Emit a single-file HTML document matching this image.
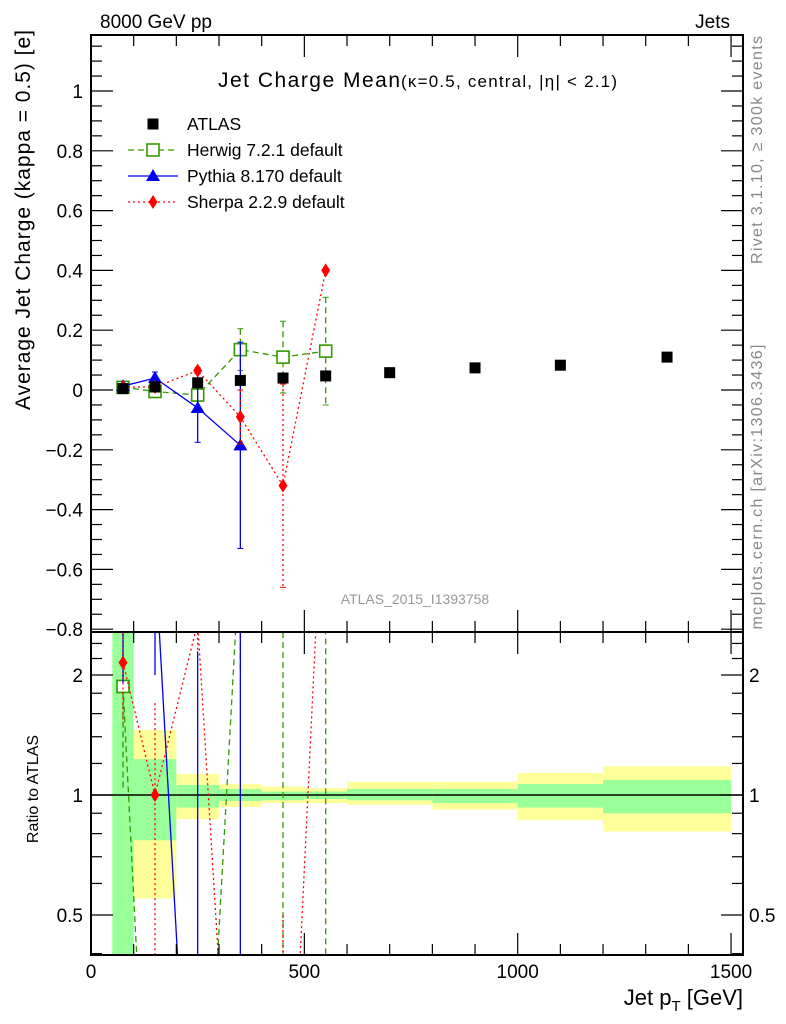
<!DOCTYPE html>
<html><head><meta charset="utf-8"><style>
html,body{margin:0;background:#fff;overflow:hidden;width:786px;height:1024px}
svg{display:block;font-family:"Liberation Sans",sans-serif}
</style></head><body>
<svg id="c" width="786" height="1024" viewBox="0 0 786 1024">
<text x="100" y="28" font-size="19">8000 GeV pp</text>
<text x="730" y="28" font-size="19" text-anchor="end">Jets</text>
<text x="218" y="87" font-size="21" textLength="182">Jet Charge Mean</text>
<text x="401" y="87" font-size="17" textLength="216">(κ=0.5, central, |η| &lt; 2.1)</text>
<text transform="translate(30,220) rotate(-90)" font-size="21" text-anchor="middle" textLength="380">Average Jet Charge (kappa = 0.5) [e]</text>
<text transform="translate(38,789) rotate(-90)" font-size="16" text-anchor="middle">Ratio to ATLAS</text>
<text transform="translate(762,150) rotate(-90)" font-size="16" fill="#888" text-anchor="middle" textLength="228">Rivet 3.1.10, ≥ 300k events</text>
<text transform="translate(762,487) rotate(-90)" font-size="16" fill="#888" text-anchor="middle" textLength="285">mcplots.cern.ch [arXiv:1306.3436]</text>
<text x="415" y="604" font-size="14" fill="#999" text-anchor="middle">ATLAS_2015_I1393758</text>
<text x="743" y="1005" font-size="22" text-anchor="end">Jet p<tspan font-size="15" dy="6">T</tspan><tspan dy="-6"> [GeV]</tspan></text>
<g id="g"></g>
</svg>
<script>
const centers=[75,150,250,350,450,550,700,900,1100,1350];
const edges=[50,100,200,300,400,500,600,800,1000,1200,1500];
const atlas=[0.0047,0.010,0.024,0.032,0.040,0.047,0.058,0.074,0.083,0.110];
const herwig=[0.0088,-0.005,-0.017,0.135,0.110,0.130];
const herwigErr=[0.004,0.006,0.008,0.07,0.12,0.18];
const pythia=[0.013,0.040,-0.060,-0.185];
const pythiaErr=[0.004,0.02,0.115,0.345];
const sherpa=[0.0101,0.010,0.065,-0.090,-0.320,0.400];
const sherpaErr=[0.003,0.007,0.01,0.09,0.34,0.0];
const greenHi=[3,1.23,1.06,1.035,1.02,1.02,1.035,1.035,1.065,1.09];
const greenLo=[0.3,0.77,0.93,0.966,0.97,0.977,0.97,0.955,0.93,0.9];
const yellowHi=[3,1.455,1.13,1.065,1.05,1.04,1.08,1.08,1.135,1.18];
const yellowLo=[0.3,0.55,0.87,0.933,0.955,0.955,0.945,0.92,0.865,0.81];
const yTicks=[-0.8,-0.6,-0.4,-0.2,0,0.2,0.4,0.6,0.8,1];
const xTicks=[0,500,1000,1500];
const rTicks=[0.5,1,2];

const NS="http://www.w3.org/2000/svg";
const G=document.getElementById('g');
const L=91,R=743,T=35,MB=632,RB=955;
const X=v=>91+v*0.4267;
const Y=v=>390-v*299;
const RY=v=>795-Math.log2(v)*120;
function el(t,a,p){const e=document.createElementNS(NS,t);for(const k in a)e.setAttribute(k,a[k]);(p||G).appendChild(e);return e;}

const defs=el('defs',{});
const clipR=el('clipPath',{id:'cr'},defs);el('rect',{x:L,y:MB,width:R-L,height:RB-MB},clipR);
const clipM=el('clipPath',{id:'cm'},defs);el('rect',{x:L,y:T,width:R-L,height:MB-T},clipM);
const rg=el('g',{'clip-path':'url(#cr)'});
for(let i=0;i<centers.length;i++){
  const b=el('rect',{x:X(edges[i]),y:RY(yellowHi[i]),width:X(edges[i+1])-X(edges[i]),height:RY(yellowLo[i])-RY(yellowHi[i]),fill:'#ffff99'},rg);
  
  
  const g2=el('rect',{x:X(edges[i]),y:RY(greenHi[i]),width:X(edges[i+1])-X(edges[i]),height:RY(greenLo[i])-RY(greenHi[i]),fill:'#99ff99'},rg);
  
  
}
el('line',{x1:L,x2:R,y1:RY(1),y2:RY(1),stroke:'#000','stroke-width':1.5},rg);

const series=[
 {v:herwig,e:herwigErr,c:'#339900',d:'6,4',m:'sq',n:'herwig'},
 {v:pythia,e:pythiaErr,c:'#0000ee',d:'',m:'tri',n:'pythia'},
 {v:sherpa,e:sherpaErr,c:'#ff0000',d:'2,3',m:'dia',n:'sherpa'}];
function marker(m,x,y,c,p){
  if(m==='sq')return el('rect',{x:x-6,y:y-6,width:12,height:12,fill:'#fff',stroke:c,'stroke-width':1.6},p);
  if(m==='tri')return el('polygon',{points:`${x},${y-7} ${x-7},${y+5} ${x+7},${y+5}`,fill:c},p);
  if(m==='dia')return el('polygon',{points:`${x},${y-7} ${x-4.5},${y} ${x},${y+7} ${x+4.5},${y}`,fill:c},p);
  return el('rect',{x:x-5.5,y:y-5.5,width:11,height:11,fill:'#000'},p);
}
const mg=el('g',{'clip-path':'url(#cm)'});
const rlg=el('g',{'clip-path':'url(#cr)'});
for(const s of series){
  let pts=s.v.map((v,i)=>X(centers[i])+','+Y(v)).join(' ');
  const pl=el('polyline',{points:pts,fill:'none',stroke:s.c,'stroke-width':1.3,'stroke-dasharray':s.d},mg);
  
  
  let rp=s.v.map((v,i)=>X(centers[i])+','+RY(Math.max(v/atlas[i],0.05))).join(' ');
  const rl=el('polyline',{points:rp,fill:'none',stroke:s.c,'stroke-width':1.3,'stroke-dasharray':s.d},rlg);
  
  
  s.v.forEach((v,i)=>{
    const x=X(centers[i]);
    if(s.e[i]>0){
      const eb=el('line',{x1:x,x2:x,y1:Y(v+s.e[i]),y2:Y(v-s.e[i]),stroke:s.c,'stroke-width':1.3,'stroke-dasharray':s.d},mg);
      
      
      el('line',{x1:x-3,x2:x+3,y1:Y(v+s.e[i]),y2:Y(v+s.e[i]),stroke:s.c},mg);
      el('line',{x1:x-3,x2:x+3,y1:Y(v-s.e[i]),y2:Y(v-s.e[i]),stroke:s.c},mg);
      const lo=Math.max((v-s.e[i])/atlas[i],0.05),hi=Math.max((v+s.e[i])/atlas[i],0.05);
      el('line',{x1:x,x2:x,y1:RY(hi),y2:RY(lo),stroke:s.c,'stroke-width':1.3,'stroke-dasharray':s.d},rlg);
    }
    const mk=marker(s.m,x,Y(v),s.c,mg);
    
    
    const r=v/atlas[i];
    if(r>0){const rm=marker(s.m,x,RY(r),s.c,rlg);
      
      }
  });
}
atlas.forEach((v,i)=>{
  const mk=marker('b',X(centers[i]),Y(v),'#000',mg);
  
  
});

const leg=[['ATLAS','b','#000',''],['Herwig 7.2.1 default','sq','#339900','6,4'],['Pythia 8.170 default','tri','#0000ee',''],['Sherpa 2.2.9 default','dia','#ff0000','2,3']];
leg.forEach((l,i)=>{
  const y=124+i*26;
  const lg=el('g',{});
  
  
  if(i>0)el('line',{x1:128,x2:178,y1:y,y2:y,stroke:l[2],'stroke-width':1.3,'stroke-dasharray':l[3]},lg);
  marker(l[1],153,y,l[2],lg);
  const t=el('text',{x:187,y:y+6,'font-size':17.5},lg);t.textContent=l[0];
});

el('rect',{x:L,y:T,width:R-L,height:MB-T,fill:'none',stroke:'#000','stroke-width':2});
el('rect',{x:L,y:MB,width:R-L,height:RB-MB,fill:'none',stroke:'#000','stroke-width':2});

for(let k=-16;k<=23;k++){
  const v=k*0.05;const y=Y(v);if(y<T||y>MB)continue;
  const major=k%4===0;const len=major?22:11;
  el('line',{x1:L,x2:L+len,y1:y,y2:y,stroke:'#000','stroke-width':1.2});
  el('line',{x1:R,x2:R-len,y1:y,y2:y,stroke:'#000','stroke-width':1.2});
}
yTicks.forEach(v=>{const t=el('text',{x:L-8,y:Y(v)+7,'font-size':19,'text-anchor':'end'});
  
  t.textContent=(v<0?'\u2212':'')+String(Math.abs(v));});
for(let v=0;v<=1500;v+=100){
  const x=X(v);const len=v%500===0?22:11;
  for(const[a,b]of[[T,MB],[MB,RB]]){
    el('line',{x1:x,x2:x,y1:b,y2:b-len,stroke:'#000','stroke-width':1.2});
    el('line',{x1:x,x2:x,y1:a,y2:a+len,stroke:'#000','stroke-width':1.2});
  }
}
xTicks.forEach(v=>{const t=el('text',{x:X(v),y:978,'font-size':19,'text-anchor':'middle'});
  t.textContent=v;});
[0.4,0.6,0.7,0.8,0.9,1.2,1.4,1.6,1.8,2.2,2.4].forEach(v=>{const y=RY(v);
  el('line',{x1:L,x2:L+11,y1:y,y2:y,stroke:'#000','stroke-width':1.2});
  el('line',{x1:R,x2:R-11,y1:y,y2:y,stroke:'#000','stroke-width':1.2});});
rTicks.forEach(v=>{const y=RY(v);
  el('line',{x1:L,x2:L+22,y1:y,y2:y,stroke:'#000','stroke-width':1.2});
  el('line',{x1:R,x2:R-22,y1:y,y2:y,stroke:'#000','stroke-width':1.2});
  const t=el('text',{x:L-8,y:y+7,'font-size':19,'text-anchor':'end'});
  t.textContent=v;
  const t2=el('text',{x:R+6,y:y+7,'font-size':19});
  t2.textContent=v;});
</script>
</body></html>
